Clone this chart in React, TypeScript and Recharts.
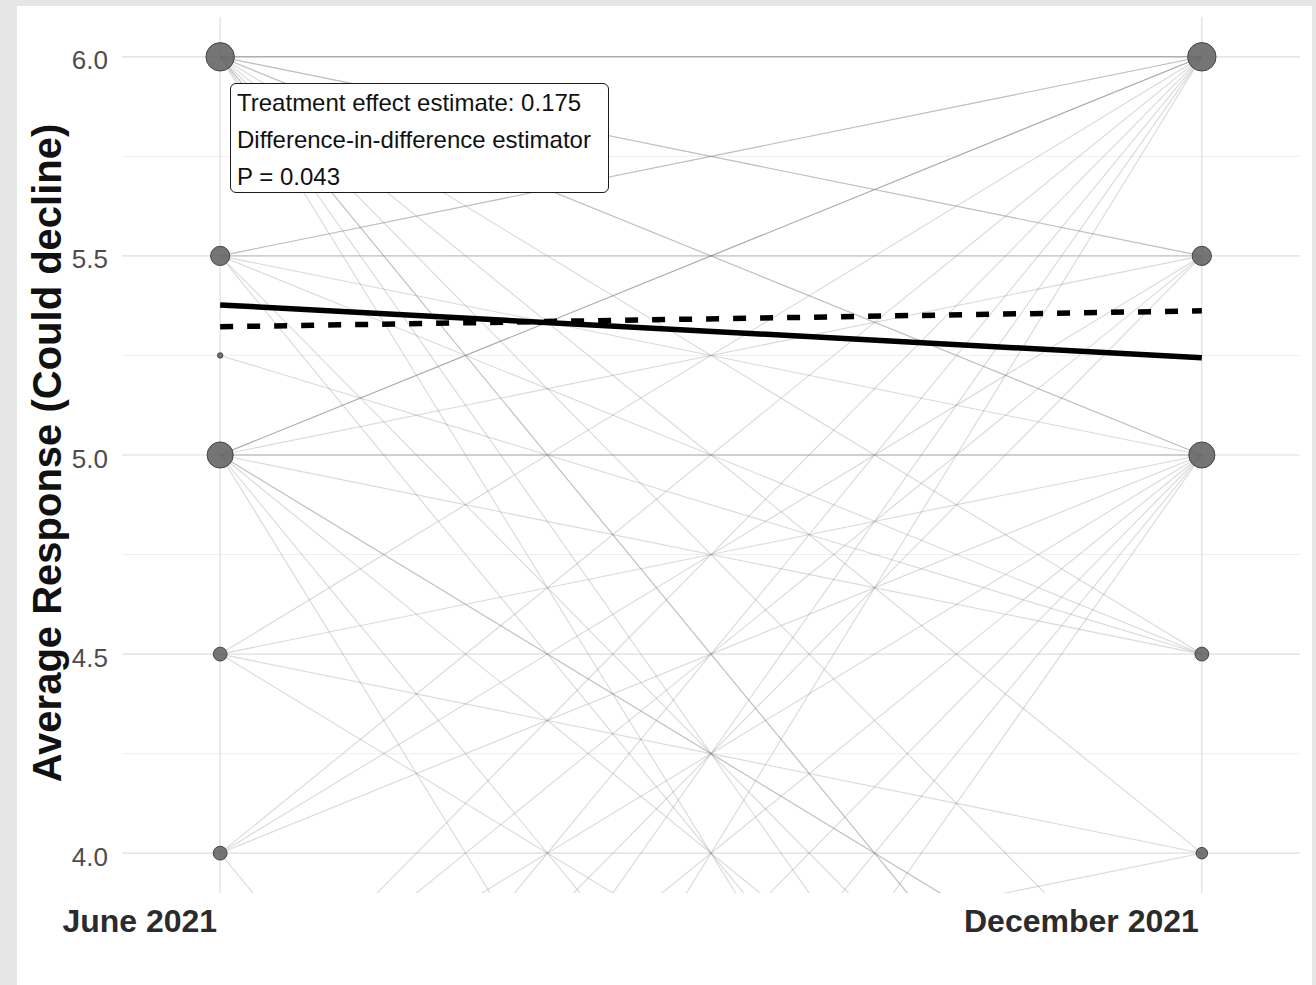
import React from 'react';
import { ComposedChart, Line, Scatter, XAxis, YAxis, CartesianGrid } from 'recharts';

// Wave categories (x positions 1 and 2)
const waveLabels = ['June 2021', 'December 2021'];
const wavePositions = [1, 2];

// Individual responses, paired by respondent (June value -> December value)
const juneResponses = [
  6, 6, 6, 6, 6, 6, 6, 6, 6, 6, 6, 6, 6, 6,
  5.5, 5.5, 5.5, 5.5, 5.5, 5.5, 5.5,
  5.25,
  5, 5, 5, 5, 5, 5, 5, 5, 5, 5, 5, 5,
  4.5, 4.5, 4.5, 4.5,
  4, 4, 4, 4,
  3.5, 3.5, 3.5, 3.5,
  3, 3, 3,
  2.5, 2.5,
  2, 2,
  1.5,
];
const decemberResponses = [
  6, 6, 6, 5.5, 5.5, 5, 5, 4.5, 4, 3.5, 3, 3, 2.5, 2,
  6, 6, 5.5, 5, 4.5, 3, 2.5,
  4.5,
  6, 6, 6, 5.5, 5, 5, 4.5, 3.5, 3.5, 3, 2, 1,
  6, 5, 4, 3,
  6, 5.5, 5, 1,
  6, 5.5, 5, 4,
  6, 5.5, 5,
  6, 5,
  6, 5,
  5,
];

// Fitted trend lines (June, December)
const solidTrend = [5.377, 5.244];
const dashedTrend = [5.322, 5.362];

// Axis ticks
const majorTicks = [4, 4.5, 5, 5.5, 6];
const minorTicks = [4.25, 4.75, 5.25, 5.75];
const yDomain: [number, number] = [3.9, 6.1];

const annotationLines = [
  'Treatment effect estimate: 0.175',
  'Difference-in-difference estimator',
  'P = 0.043',
];

const FONT = '"Liberation Sans", Arial, Helvetica, sans-serif';

function countPoints(values: number[], x: number) {
  const m = new Map<number, number>();
  values.forEach((v) => m.set(v, (m.get(v) || 0) + 1));
  return Array.from(m.entries())
    .filter(([v]) => v >= yDomain[0] && v <= yDomain[1])
    .map(([v, n]) => ({ x, y: v, n }));
}

const pointData = [
  ...countPoints(juneResponses, wavePositions[0]),
  ...countPoints(decemberResponses, wavePositions[1]),
];

const radiusOf = (n: number) => 4.2 * Math.sqrt(n) - 1.5;

const PointShape = (props: any) => {
  const { cx, cy, payload } = props;
  if (cx == null || cy == null) return null;
  return (
    <circle
      cx={cx}
      cy={cy}
      r={radiusOf(payload.n)}
      fill="#666666"
      fillOpacity={0.9}
      stroke="#444444"
      strokeWidth={1}
    />
  );
};

const YTick = (props: any) => {
  const { x, y, payload } = props;
  return (
    <text x={x - 14} y={y + 12.5} textAnchor="end" fontSize={26} fill="#4d4d4d" fontFamily={FONT}>
      {payload.value.toFixed(1)}
    </text>
  );
};

const XTick = (props: any) => {
  const { x, y, payload } = props;
  const idx = wavePositions.indexOf(payload.value);
  return (
    <text x={x - 3} y={y + 38.5} textAnchor="end" fontSize={32} fontWeight="bold" fill="#2b2b2b" fontFamily={FONT}>
      {waveLabels[idx]}
    </text>
  );
};

const YTitle = () => {
  const cx = 61;
  const cy = 453;
  return (
    <text
      x={cx}
      y={cy}
      transform={`rotate(-90, ${cx}, ${cy})`}
      textAnchor="middle"
      fontSize={40}
      fontWeight="bold"
      fill="#111111"
      fontFamily={FONT}
    >
      Average Response (Could decline)
    </text>
  );
};

export default function App() {
  return (
    <div style={{ position: 'absolute', left: 0, top: 0, width: 1316, height: 985, background: '#e6e6e6', overflow: 'hidden' }}>
      <div style={{ position: 'absolute', left: 17, top: 6, width: 1295, height: 979, background: '#ffffff' }} />
      <div style={{ position: 'absolute', left: 0, top: 0 }}>
        <ComposedChart width={1316} height={985} margin={{ top: 17, right: 16, bottom: 32, left: 22 }}>
          <CartesianGrid horizontalValues={minorTicks} vertical={false} stroke="#efefef" strokeWidth={1} />
          <CartesianGrid horizontalValues={majorTicks} verticalValues={wavePositions} stroke="#dedede" strokeWidth={1.2} />
          <XAxis
            type="number"
            dataKey="x"
            domain={[0.9, 2.1]}
            ticks={wavePositions}
            axisLine={false}
            tickLine={false}
            tickSize={0}
            tickMargin={0}
            height={60}
            tick={<XTick />}
            allowDataOverflow
          />
          <YAxis
            type="number"
            dataKey="y"
            domain={yDomain}
            ticks={majorTicks}
            axisLine={false}
            tickLine={false}
            tickSize={0}
            tickMargin={0}
            width={100}
            tick={<YTick />}
            allowDataOverflow
            label={<YTitle />}
          />
          {juneResponses.map((j, i) => (
            <Line
              key={`r${i}`}
              data={[
                { x: wavePositions[0], y: j },
                { x: wavePositions[1], y: decemberResponses[i] },
              ]}
              dataKey="y"
              stroke="#808080"
              strokeOpacity={0.3}
              strokeWidth={1.1}
              dot={false}
              activeDot={false}
              isAnimationActive={false}
            />
          ))}
          <Line
            data={[
              { x: wavePositions[0], y: solidTrend[0] },
              { x: wavePositions[1], y: solidTrend[1] },
            ]}
            dataKey="y"
            stroke="#000000"
            strokeWidth={5.5}
            dot={false}
            activeDot={false}
            isAnimationActive={false}
          />
          <Line
            data={[
              { x: wavePositions[0], y: dashedTrend[0] },
              { x: wavePositions[1], y: dashedTrend[1] },
            ]}
            dataKey="y"
            stroke="#000000"
            strokeWidth={5.5}
            strokeDasharray="13 14"
            dot={false}
            activeDot={false}
            isAnimationActive={false}
          />
          <Scatter data={pointData} dataKey="y" shape={<PointShape />} isAnimationActive={false} />
        </ComposedChart>
      </div>
      <div
        style={{
          position: 'absolute',
          left: 230,
          top: 83,
          width: 379,
          height: 110,
          boxSizing: 'border-box',
          border: '1.5px solid #1a1a1a',
          borderRadius: 6,
          background: '#ffffff',
          fontFamily: FONT,
          fontSize: 24,
          lineHeight: '37px',
          color: '#111111',
          paddingLeft: 6,
          whiteSpace: 'nowrap',
        }}
      >
        {annotationLines.map((t) => (
          <div key={t}>{t}</div>
        ))}
      </div>
    </div>
  );
}
